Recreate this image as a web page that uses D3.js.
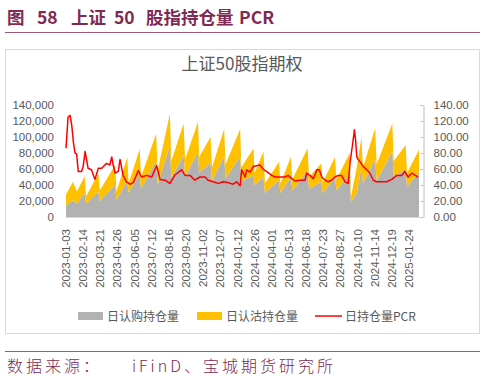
<!DOCTYPE html>
<html>
<head>
<meta charset="utf-8">
<script src="https://cdn.jsdelivr.net/npm/d3@7"></script>
<style>
  body { margin: 0; background: #fff; }
  svg { display: block; }
</style>
</head>
<body>
<svg id="chart"></svg>
<script>
// tick labels on the category axis (every ~24 trading days)
const tickLabels = ['2023-01-03','2023-02-14','2023-03-21','2023-04-26','2023-06-05','2023-07-12',
  '2023-08-16','2023-09-20','2023-11-02','2023-12-07','2024-01-12','2024-02-26','2024-04-01',
  '2024-05-13','2024-06-18','2024-07-23','2024-08-27','2024-10-10','2024-11-14','2024-12-19','2025-01-24'];

// holdings, read around each monthly expiry (peak on expiry day, drop the next session)
const holdDates = ['2023-01-03','2023-01-20','2023-01-30','2023-02-17','2023-02-20','2023-03-17','2023-03-20',
  '2023-04-21','2023-04-24','2023-05-19','2023-05-22','2023-06-16','2023-06-19','2023-07-21','2023-07-24',
  '2023-08-18','2023-08-21','2023-09-15','2023-09-18','2023-10-20','2023-10-23','2023-11-17','2023-11-20',
  '2023-12-15','2023-12-18','2024-01-19','2024-01-22','2024-02-23','2024-02-26','2024-03-15','2024-03-18',
  '2024-04-19','2024-04-22','2024-05-17','2024-05-20','2024-06-21','2024-06-24','2024-07-19','2024-07-22',
  '2024-08-16','2024-08-19','2024-09-20','2024-09-23','2024-10-08','2024-10-18','2024-10-21','2024-11-15',
  '2024-11-18','2024-12-20','2024-12-23','2025-01-17','2025-01-20','2025-02-14'];
const callHold = [14000,21000,17000,30000,17000,32000,20000,40000,22000,45000,30000,55000,35000,70000,40000,
  90000,48000,78000,50000,82000,55000,68000,45000,76000,48000,76000,45000,52000,40000,50000,30000,
  46000,30000,50000,33000,58000,35000,44000,30000,50000,33000,54000,18000,30000,62000,42000,72000,
  45000,82000,50000,60000,38000,56000];
const putHold = [14000,23000,15000,21000,9000,22000,13000,25000,10000,30000,12000,30000,15000,34000,18000,
  39000,22000,39000,22000,37000,20000,32000,17000,34000,18000,34000,17000,34000,15000,32000,12000,
  23000,12000,25000,14000,28000,15000,23000,13000,25000,14000,26000,7000,32000,38000,20000,39000,
  21000,35000,20000,30000,17000,28000];

// put/call ratio of holdings (%)
const pcrDates = ['2023-01-03','2023-01-08','2023-01-13','2023-01-17','2023-01-21','2023-01-25','2023-01-29',
  '2023-02-02','2023-02-10','2023-02-14','2023-02-18','2023-02-24','2023-03-03','2023-03-10','2023-03-17',
  '2023-03-24','2023-04-03','2023-04-10','2023-04-14','2023-04-17','2023-04-21','2023-04-28','2023-05-02',
  '2023-05-09','2023-05-17','2023-05-25','2023-06-02','2023-06-13','2023-06-20','2023-07-01','2023-07-12',
  '2023-07-22','2023-07-29','2023-08-08','2023-08-18','2023-08-28','2023-09-11','2023-09-18','2023-09-30',
  '2023-10-12','2023-10-25','2023-11-06','2023-11-12','2023-11-22','2023-12-03','2023-12-13','2023-12-23',
  '2024-01-03','2024-01-10','2024-01-19','2024-01-23','2024-02-01','2024-02-05','2024-02-14','2024-02-22',
  '2024-03-08','2024-03-14','2024-03-21','2024-04-01','2024-04-09','2024-04-25','2024-05-03','2024-05-11',
  '2024-05-19','2024-05-26','2024-06-05','2024-06-16','2024-06-19','2024-06-26','2024-07-03','2024-07-10',
  '2024-07-15','2024-07-20','2024-07-27','2024-08-02','2024-08-09','2024-08-16','2024-08-23','2024-08-30',
  '2024-09-08','2024-09-16','2024-09-21','2024-09-27','2024-10-02','2024-10-05','2024-10-08','2024-10-11',
  '2024-10-15','2024-10-22','2024-10-29','2024-11-04','2024-11-11','2024-11-18','2024-11-28','2024-12-08',
  '2024-12-19','2024-12-29','2025-01-09','2025-01-15','2025-01-22','2025-01-30','2025-02-06','2025-02-12'];
const pcrValues = [86,125,127,115,94,80,79,57,57,63,82,61,59,47,61,61,67,65,75,65,55,57,72,52,44,41,43,
  58,50,52,50,64,47,46,42,52.5,59,52,52,46,50,50,46,44,42,44,43,41,44,39,59,50,59,56,63,65,60,57,52,50,
  50,50,52,48,45,46,46,55,52,48,59,59,50,46,44,46,50,52,52,44,42,69,90,109,96,75,72,69,63,59,55,46,
  44,44,44,47,52,52,57,50,55,52,50];

const leftTicks = [0,20000,40000,60000,80000,100000,120000,140000];
const rightTicks = [0,20,40,60,80,100,120,140];

const W = 485, H = 382;
const maroon = '#7f2a52';
const grey = '#595959';
const parse = d3.timeParse('%Y-%m-%d');

const svg = d3.select('#chart').attr('width', W).attr('height', H);
svg.append('rect').attr('width', W).attr('height', H).attr('fill', '#fff');

// report header
const head = svg.append('text').attr('y', 24).attr('fill', maroon)
  .attr('font-family', '"Noto Sans CJK SC", sans-serif').attr('font-weight', 700).attr('font-size', 17.5);
[['图',7],['58',37],['上证',71],['50',114],['股指持仓量',146],['PCR',239]].forEach(([t,px]) => {
  head.append('tspan').attr('x', px).text(t);
});
svg.append('line').attr('x1', 5).attr('x2', 480).attr('y1', 32.5).attr('y2', 32.5)
  .attr('stroke', '#9d5a78').attr('stroke-width', 1.2);

// chart frame
svg.append('rect').attr('x', 5.5).attr('y', 49.5).attr('width', 474).attr('height', 284)
  .attr('fill', 'none').attr('stroke', '#d9d9d9');

svg.append('text').attr('x', 242).attr('y', 70).attr('text-anchor', 'middle')
  .attr('font-family', '"Noto Sans CJK SC", sans-serif').attr('font-size', 17).attr('fill', grey)
  .text('上证50股指期权');

// scales
const tickDates = tickLabels.map(parse);
const plotLeft = 66, step = 17.15, plotTop = 105, plotBottom = 217, rightAxis = 423;
const x = d3.scaleTime().domain(tickDates).range(tickDates.map((d, i) => plotLeft + i * step));
const yL = d3.scaleLinear().domain([0, 140000]).range([plotBottom, plotTop]);
const yR = d3.scaleLinear().domain([0, 140]).range([plotBottom, plotTop]);

const rows = holdDates.map((d, i) => ({ date: parse(d), call: callHold[i], put: putHold[i] }));
const stacked = d3.stack().keys(['call', 'put'])(rows);
const colors = { call: '#b2b2b2', put: '#ffc000' };

const area = d3.area().x(d => x(d.data.date)).y0(d => yL(d[0])).y1(d => yL(d[1]));
svg.append('g').selectAll('path').data(stacked).join('path')
  .attr('d', area).attr('fill', d => colors[d.key]);

// baseline
svg.append('line').attr('x1', plotLeft).attr('x2', rightAxis).attr('y1', plotBottom + 0.5).attr('y2', plotBottom + 0.5)
  .attr('stroke', '#d9d9d9');

const pcr = pcrDates.map((d, i) => ({ date: parse(d), v: pcrValues[i] }));
svg.append('path').datum(pcr)
  .attr('d', d3.line().x(d => x(d.date)).y(d => yR(d.v)))
  .attr('fill', 'none').attr('stroke', '#ff0000').attr('stroke-width', 1.5).attr('stroke-linejoin', 'round');

// left axis
const axisFont = '"Liberation Sans", Arial, sans-serif';
const gl = svg.append('g').attr('transform', `translate(${plotLeft - 12},0)`)
  .call(d3.axisLeft(yL).tickValues(leftTicks).tickSize(0).tickPadding(0).tickFormat(d3.format(',')));
gl.select('.domain').remove();
gl.selectAll('text').attr('font-family', axisFont).attr('font-size', 11.5).attr('fill', grey);

// right axis
const gr = svg.append('g').attr('transform', `translate(${rightAxis + 0.5},0)`)
  .call(d3.axisRight(yR).tickValues(rightTicks).tickSizeInner(-3).tickSizeOuter(0).tickPadding(10)
    .tickFormat(d3.format('.2f')));
gr.select('.domain').attr('stroke', '#bfbfbf');
gr.selectAll('line').attr('stroke', '#bfbfbf');
gr.selectAll('text').attr('font-family', axisFont).attr('font-size', 11.5).attr('fill', grey);

// category labels
svg.append('g').selectAll('text').data(tickDates).join('text')
  .attr('transform', d => `translate(${x(d) + 4},${plotBottom + 12}) rotate(-90)`)
  .attr('text-anchor', 'end')
  .attr('font-family', axisFont).attr('font-size', 11.5).attr('fill', grey)
  .text((d, i) => tickLabels[i]);

// legend
const legend = [
  { name: '日认购持仓量', kind: 'rect', color: colors.call, lx: 78 },
  { name: '日认沽持仓量', kind: 'rect', color: colors.put, lx: 197 },
  { name: '日持仓量PCR', kind: 'line', color: '#ff0000', lx: 315 }
];
const lg = svg.append('g').selectAll('g').data(legend).join('g')
  .attr('transform', d => `translate(${d.lx},316)`);
lg.filter(d => d.kind === 'rect').append('rect')
  .attr('y', -4).attr('width', 25).attr('height', 8).attr('fill', d => d.color);
lg.filter(d => d.kind === 'line').append('line')
  .attr('x2', 27).attr('stroke', d => d.color).attr('stroke-width', 1.5);
lg.append('text').attr('x', d => d.kind === 'line' ? 30 : 29).attr('y', 4.5)
  .attr('font-family', '"Noto Sans CJK SC", sans-serif').attr('font-size', 12).attr('fill', grey)
  .text(d => d.name);

// source
svg.append('line').attr('x1', 5).attr('x2', 480).attr('y1', 351.5).attr('y2', 351.5)
  .attr('stroke', '#9d5a78').attr('stroke-width', 1);
const src = svg.append('text').attr('y', 372).attr('fill', maroon)
  .attr('font-family', '"Noto Sans CJK SC", sans-serif').attr('font-weight', 300)
  .attr('font-size', 16).attr('letter-spacing', 3);
src.append('tspan').attr('x', 7).text('数据来源：');
src.append('tspan').attr('x', 132).text('iFinD、宝城期货研究所');
</script>
</body>
</html>
